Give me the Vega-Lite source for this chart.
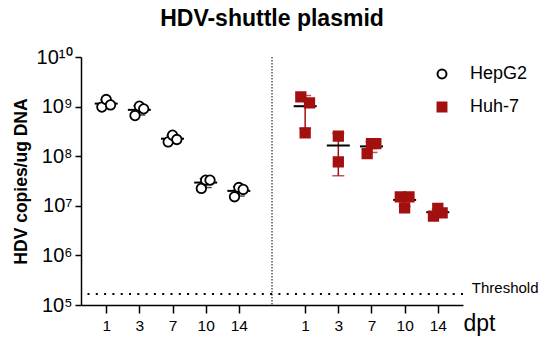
{
  "$schema": "https://vega.github.io/schema/vega-lite/v6.json",
  "width": 382,
  "height": 248,
  "autosize": {"type": "none"},
  "padding": {"left": 81, "top": 57, "right": 87, "bottom": 40},
  "background": "white",
  "title": {"text": "HDV-shuttle plasmid", "fontSize": 23, "font": "Liberation Sans", "fontWeight": "bold", "anchor": "middle", "frame": "group", "offset": 16, "color": "black"},
  "config": {
    "view": {"stroke": null},
    "font": "Liberation Sans",
    "axis": {"domainColor": "black", "tickColor": "black", "labelColor": "black", "titleColor": "black", "grid": false, "domainWidth": 1.5, "tickWidth": 1.5, "labelFont": "Liberation Sans", "titleFont": "Liberation Sans"},
    "legend": {"labelFont": "Liberation Sans", "labelFontSize": 18, "labelColor": "black", "symbolSize": 80, "symbolStrokeWidth": 2, "rowPadding": 15, "labelOffset": 19, "padding": 0}
  },
  "datasets": {
    "pts": [
      {"cell": "HepG2", "group": "HepG2 1", "rep": "a", "v": 980000000},
      {"cell": "HepG2", "group": "HepG2 1", "rep": "b", "v": 1390000000},
      {"cell": "HepG2", "group": "HepG2 1", "rep": "c", "v": 1080000000},
      {"cell": "HepG2", "group": "HepG2 3", "rep": "a", "v": 660000000},
      {"cell": "HepG2", "group": "HepG2 3", "rep": "b", "v": 1020000000},
      {"cell": "HepG2", "group": "HepG2 3", "rep": "c", "v": 900000000},
      {"cell": "HepG2", "group": "HepG2 7", "rep": "a", "v": 194000000},
      {"cell": "HepG2", "group": "HepG2 7", "rep": "b", "v": 265000000},
      {"cell": "HepG2", "group": "HepG2 7", "rep": "c", "v": 217000000},
      {"cell": "HepG2", "group": "HepG2 10", "rep": "a", "v": 22400000},
      {"cell": "HepG2", "group": "HepG2 10", "rep": "b", "v": 32900000},
      {"cell": "HepG2", "group": "HepG2 10", "rep": "c", "v": 32900000},
      {"cell": "HepG2", "group": "HepG2 14", "rep": "a", "v": 15200000},
      {"cell": "HepG2", "group": "HepG2 14", "rep": "b", "v": 23400000},
      {"cell": "HepG2", "group": "HepG2 14", "rep": "c", "v": 21400000},
      {"cell": "Huh-7", "group": "Huh-7 1", "rep": "a", "v": 1570000000},
      {"cell": "Huh-7", "group": "Huh-7 1", "rep": "c", "v": 1190000000},
      {"cell": "Huh-7", "group": "Huh-7 1", "rep": "b", "v": 295000000},
      {"cell": "Huh-7", "group": "Huh-7 3", "rep": "b", "v": 253000000},
      {"cell": "Huh-7", "group": "Huh-7 3", "rep": "b", "v": 76900000},
      {"cell": "Huh-7", "group": "Huh-7 7", "rep": "a", "v": 113000000},
      {"cell": "Huh-7", "group": "Huh-7 7", "rep": "b", "v": 180000000},
      {"cell": "Huh-7", "group": "Huh-7 7", "rep": "c", "v": 180000000},
      {"cell": "Huh-7", "group": "Huh-7 10", "rep": "a", "v": 15200000},
      {"cell": "Huh-7", "group": "Huh-7 10", "rep": "c", "v": 15200000},
      {"cell": "Huh-7", "group": "Huh-7 10", "rep": "b", "v": 9100000},
      {"cell": "Huh-7", "group": "Huh-7 14", "rep": "a", "v": 6200000},
      {"cell": "Huh-7", "group": "Huh-7 14", "rep": "b", "v": 8850000},
      {"cell": "Huh-7", "group": "Huh-7 14", "rep": "c", "v": 7230000}
    ]
  },
  "data": {"name": "pts"},
  "layer": [
    {
      "data": {"values": [{"v": 166000, "group": "gap"}]},
      "mark": {"type": "rule", "strokeDash": [2, 6.3], "strokeWidth": 2, "color": "black"},
      "encoding": {
        "y": {
          "field": "v", "type": "quantitative", "title": "HDV copies/ug DNA",
          "scale": {"type": "log", "domain": [100000, 10000000000], "nice": false},
          "axis": {
            "title": "HDV copies/ug DNA",
            "titleFontSize": 17.5, "titleFontWeight": "bold", "titlePadding": 6,
            "values": [100000, 1000000, 10000000, 100000000, 1000000000, 10000000000],
            "labelExpr": "'10' + ['⁰','¹','²','³','⁴','⁵','⁶','⁷','⁸','⁹','¹⁰'][round(log(datum.value)/LN10)]",
            "labelFontSize": 20, "labelPadding": 3, "tickSize": 6
          }
        }
      }
    },
    {
      "data": {"values": [{"group": "gap"}]},
      "mark": {"type": "rule", "strokeDash": [1.5, 1.5], "strokeWidth": 1, "color": "black"},
      "encoding": {
        "x": {
          "field": "group", "type": "nominal", "title": "dpt",
          "scale": {"type": "point", "padding": 0.76, "domain": ["HepG2 1", "HepG2 3", "HepG2 7", "HepG2 10", "HepG2 14", "gap", "Huh-7 1", "Huh-7 3", "Huh-7 7", "Huh-7 10", "Huh-7 14"]},
          "axis": {
            "title": "dpt", "titleFontSize": 23, "titleFontWeight": "normal", "titleAngle": 0,
            "titleAlign": "left", "titleBaseline": "alphabetic", "titleX": 382, "titleY": 25,
            "values": ["HepG2 1", "HepG2 3", "HepG2 7", "HepG2 10", "HepG2 14", "Huh-7 1", "Huh-7 3", "Huh-7 7", "Huh-7 10", "Huh-7 14"],
            "labelExpr": "split(datum.value, ' ')[1]",
            "labelAngle": 0, "labelFontSize": 15.5, "labelPadding": 5, "tickSize": 8
          }
        }
      }
    },
    {
      "transform": [{"filter": "datum.cell == 'HepG2'"}],
      "mark": {"type": "errorbar", "extent": "stdev", "ticks": true, "size": 12, "thickness": 1.5, "color": "black"},
      "encoding": {
        "x": {"field": "group", "type": "nominal", "title": "dpt"},
        "y": {"field": "v", "type": "quantitative", "title": "HDV copies/ug DNA"}
      }
    },
    {
      "transform": [{"filter": "datum.cell == 'Huh-7'"}],
      "mark": {"type": "errorbar", "extent": "stdev", "ticks": true, "size": 12, "thickness": 1.5, "color": "#a31010"},
      "encoding": {
        "x": {"field": "group", "type": "nominal", "title": "dpt"},
        "y": {"field": "v", "type": "quantitative", "title": "HDV copies/ug DNA"}
      }
    },
    {
      "mark": {"type": "tick", "color": "black", "thickness": 2, "size": 23},
      "encoding": {
        "x": {"field": "group", "type": "nominal", "title": "dpt"},
        "y": {"field": "v", "type": "quantitative", "aggregate": "mean", "title": "HDV copies/ug DNA"}
      }
    },
    {
      "mark": {"type": "point", "filled": false, "strokeWidth": 1.8, "opacity": 1, "size": 90},
      "encoding": {
        "x": {"field": "group", "type": "nominal", "title": "dpt"},
        "xOffset": {"field": "rep", "type": "nominal", "scale": {"type": "point", "domain": ["a", "b", "c"], "range": [-6.5, 6.5]}},
        "y": {"field": "v", "type": "quantitative", "title": "HDV copies/ug DNA"},
        "shape": {"field": "cell", "type": "nominal", "scale": {"domain": ["HepG2", "Huh-7"], "range": ["circle", "square"]}, "legend": {"title": null, "orient": "none", "legendX": 352, "legendY": 8}},
        "fill": {"field": "cell", "type": "nominal", "scale": {"domain": ["HepG2", "Huh-7"], "range": ["white", "#a31010"]}, "legend": {"title": null, "orient": "none", "legendX": 352, "legendY": 8}},
        "stroke": {"field": "cell", "type": "nominal", "scale": {"domain": ["HepG2", "Huh-7"], "range": ["black", "#a31010"]}, "legend": {"title": null, "orient": "none", "legendX": 352, "legendY": 8}}
      }
    },
    {
      "data": {"values": [{"v": 166000, "group": "Huh-7 14", "label": "Threshold"}]},
      "mark": {"type": "text", "align": "left", "baseline": "alphabetic", "dx": 34, "dy": -1, "fontSize": 15, "color": "black"},
      "encoding": {
        "x": {"field": "group", "type": "nominal", "title": "dpt"},
        "y": {"field": "v", "type": "quantitative", "title": "HDV copies/ug DNA"},
        "text": {"field": "label"}
      }
    }
  ]
}
